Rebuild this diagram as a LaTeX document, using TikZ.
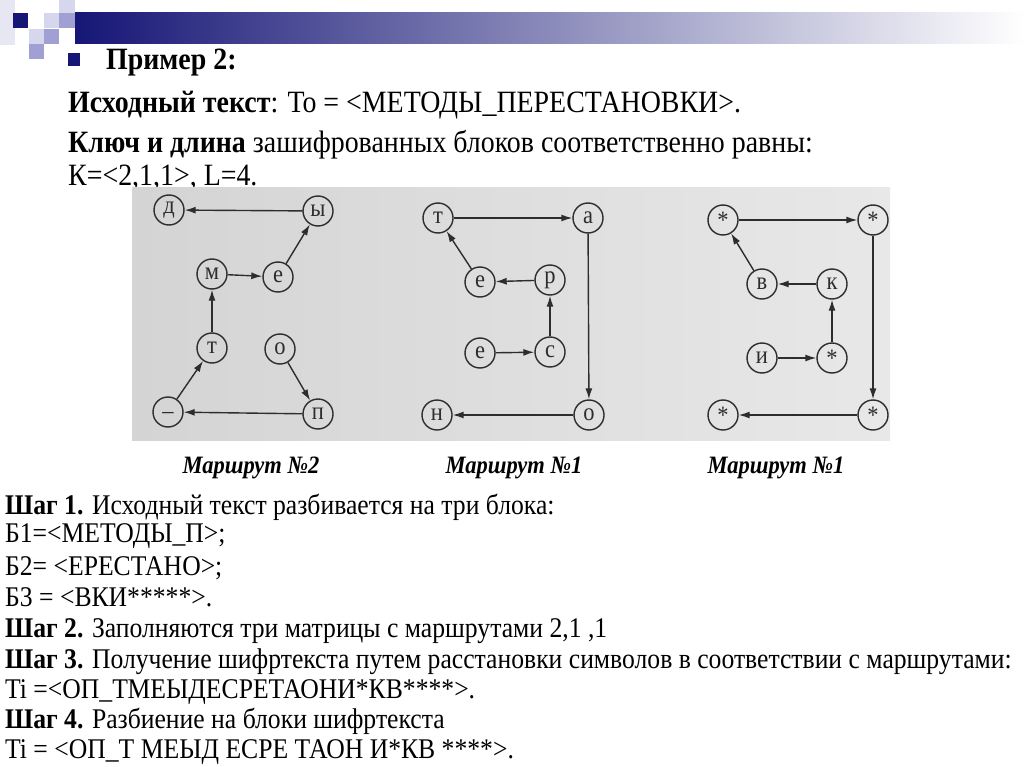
\documentclass[tikz,border=0pt]{standalone}
\usepackage{fontspec}
\setmainfont[FakeStretch=0.9]{Liberation Serif}
\usetikzlibrary{arrows.meta}
\definecolor{Navy}{RGB}{22,22,118}
\definecolor{Lilac}{RGB}{214,214,236}
\definecolor{Lavender}{RGB}{160,160,210}
\definecolor{Ink}{RGB}{45,45,45}
\definecolor{ScanL}{RGB}{212,212,212}
\definecolor{ScanR}{RGB}{232,232,232}

\begin{document}
\begin{tikzpicture}[x=1pt,y=-1pt,
  letter/.style={circle,draw=Ink,line width=1.4pt,minimum size=30pt,inner sep=0pt,text=Ink,font=\fontsize{25}{25}\selectfont},
  route/.style={-{Latex[length=11pt,width=7pt]},line width=1.4pt,Ink},
  headline/.style={anchor=base west,inner sep=0pt,font=\fontsize{31}{31}\selectfont},
  stepline/.style={anchor=base west,inner sep=0pt,font=\fontsize{28.5}{28.5}\selectfont},
  routename/.style={anchor=base,inner sep=0pt,font=\fontsize{25}{25}\selectfont\bfseries\itshape}]
\useasboundingbox[fill=white] (0,0) rectangle (1024,767);
\fill[Lilac!60] (0,0) rectangle (15,45);
\fill[Lilac] (59,0) rectangle (75,13);
\fill[Navy] (13,13) rectangle (28,28);
\fill[Lilac] (44,13) rectangle (59,28);
\fill[Lavender] (59,13) rectangle (75,28);
\fill[Lilac] (29,29) rectangle (44,44);
\fill[Lavender] (44,29) rectangle (59,44);
\fill[Lavender] (29,44) rectangle (44,59);
\shade[left color=Navy,right color=white] (75,13) rectangle (1024,44);
\fill[Navy] (68,53) rectangle (80,66);
\node[headline,font=\fontsize{31}{31}\selectfont\bfseries] (title) at (106,70) {Пример 2:};
\node[headline] (source) at (68,113) {\textbf{Исходный текст}: То = <МЕТОДЫ\_ПЕРЕСТАНОВКИ>.};
\node[headline] (keyline) at (68,153) {\textbf{Ключ и длина} зашифрованных блоков соответственно равны:};
\node[headline] (keyval) at (68,186) {К=<2,1,1>, L=4.};
\shade[left color=ScanL,right color=ScanR] (132,188) rectangle (890,440);
\node[letter] (r2d) at (169,210) {д};
\node[letter] (r2y) at (318,211) {ы};
\node[letter] (r2m) at (212,274) {м};
\node[letter] (r2e) at (278,277) {е};
\node[letter] (r2t) at (212,348) {т};
\node[letter] (r2o) at (280,349) {о};
\node[letter] (r2u) at (168,412) {\_};
\node[letter] (r2p) at (318,414) {п};
\draw[route] (r2o)--(r2p); \draw[route] (r2p)--(r2u); \draw[route] (r2u)--(r2t); \draw[route] (r2t)--(r2m); \draw[route] (r2m)--(r2e); \draw[route] (r2e)--(r2y); \draw[route] (r2y)--(r2d);
\node[letter] (r1t) at (438,218) {т};
\node[letter] (r1a) at (588,218) {а};
\node[letter] (r1e) at (480,282) {е};
\node[letter] (r1r) at (550,280) {р};
\node[letter] (r1ee) at (480,353) {е};
\node[letter] (r1s) at (550,352) {с};
\node[letter] (r1n) at (437,415) {н};
\node[letter] (r1o) at (589,415) {о};
\draw[route] (r1ee)--(r1s); \draw[route] (r1s)--(r1r); \draw[route] (r1r)--(r1e); \draw[route] (r1e)--(r1t); \draw[route] (r1t)--(r1a); \draw[route] (r1a)--(r1o); \draw[route] (r1o)--(r1n);
\node[letter] (r3a) at (723,220) {*};
\node[letter] (r3b) at (873,220) {*};
\node[letter] (r3v) at (762,284) {в};
\node[letter] (r3k) at (832,284) {к};
\node[letter] (r3i) at (762,358) {и};
\node[letter] (r3c) at (832,358) {*};
\node[letter] (r3d) at (723,415) {*};
\node[letter] (r3e) at (873,415) {*};
\draw[route] (r3i)--(r3c); \draw[route] (r3c)--(r3k); \draw[route] (r3k)--(r3v); \draw[route] (r3v)--(r3a); \draw[route] (r3a)--(r3b); \draw[route] (r3b)--(r3e); \draw[route] (r3e)--(r3d);
\node[routename] (name2) at (251,473) {Маршрут №2};
\node[routename] (name1) at (514,473) {Маршрут №1};
\node[routename] (name3) at (776,473) {Маршрут №1};
\node[stepline] (step1) at (5,514) {\textbf{Шаг 1.} Исходный текст разбивается на три блока:};
\node[stepline] (block1) at (5,542) {Б1=<МЕТОДЫ\_П>;};
\node[stepline] (block2) at (5,575) {Б2= <ЕРЕСТАНО>;};
\node[stepline] (block3) at (5,606) {Б3 = <ВКИ*****>.};
\node[stepline] (step2) at (5,637) {\textbf{Шаг 2.} Заполняются три матрицы с маршрутами 2,1 ,1};
\node[stepline] (step3) at (5,668) {\textbf{Шаг 3.} Получение шифртекста путем расстановки символов в соответствии с маршрутами:};
\node[stepline] (cipher) at (5,698) {Ti =<ОП\_ТМЕЫДЕСРЕТАОНИ*КВ****>.};
\node[stepline] (step4) at (5,728) {\textbf{Шаг 4.} Разбиение на блоки шифртекста};
\node[stepline] (split) at (5,758) {Ti = <ОП\_Т МЕЫД ЕСРЕ ТАОН И*КВ ****>.};
\end{tikzpicture}
\end{document}
